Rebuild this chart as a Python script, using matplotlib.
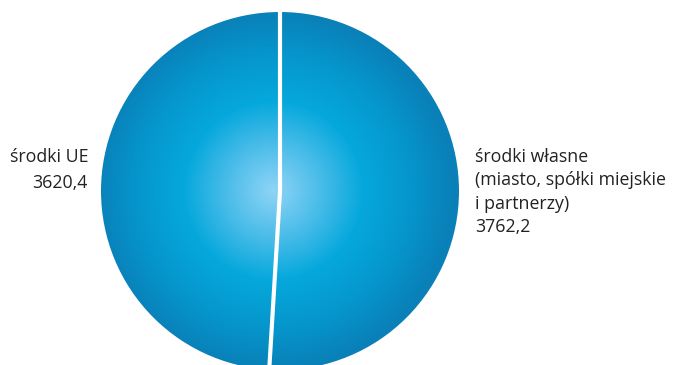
import numpy as np
import matplotlib.pyplot as plt
from matplotlib.colors import LinearSegmentedColormap
from matplotlib.patches import Circle

# dane
kategorie = ['środki własne\n(miasto, spółki miejskie\ni partnerzy)', 'środki UE']
wartosci = [3762.2, 3620.4]
etykiety_wart = ['3762,2', '3620,4']

W, H = 673, 365
fig = plt.figure(figsize=(W / 100, H / 100), dpi=100)
ax = fig.add_axes([0, 0, 1, 1])

# współrzędne w pikselach, oś y w górę
cx, cy, r = 280, H - 191, 179

# kąty wycinków z danych (pie tylko do geometrii)
wedges, _ = ax.pie(wartosci, startangle=90, counterclock=False,
                   center=(cx, cy), radius=r,
                   wedgeprops=dict(facecolor='none', edgecolor='none'))

# gradient radialny w kole
cmap = LinearSegmentedColormap.from_list('ing', [
    (0.0, '#8fd4f6'), (0.28, '#45bbe8'), (0.5, '#05a8dc'),
    (0.78, '#0595cb'), (1.0, '#0a80b8')])
yy, xx = np.mgrid[0:H, 0:W]
dist = np.sqrt((xx - 273) ** 2 + (yy - 190) ** 2) / r
im = ax.imshow(np.clip(dist, 0, 1), cmap=cmap, vmin=0, vmax=1,
               extent=(0, W, 0, H), origin='upper', zorder=1)
clip = Circle((cx, cy), r, transform=ax.transData)
im.set_clip_path(clip)

# białe linie podziału
for ang in [wedges[0].theta1, wedges[0].theta2]:
    a = np.deg2rad(ang)
    ax.plot([cx, cx + r * 1.02 * np.cos(a)], [cy, cy + r * 1.02 * np.sin(a)],
            color='white', lw=3, zorder=3, solid_capstyle='butt')

ax.set_xlim(0, W)
ax.set_ylim(0, H)
ax.set_aspect('equal')
ax.axis('off')

fnt = dict(fontsize=12.8, family='Open Sans', color='#222222')
ax.text(88, H - 170, kategorie[1] + '\n' + etykiety_wart[1], ha='right', va='center',
        linespacing=1.52, **fnt)
ax.text(475, H - 192, kategorie[0] + '\n' + etykiety_wart[0], ha='left', va='center',
        linespacing=1.36, **fnt)

fig.savefig('out.png', dpi=100)
